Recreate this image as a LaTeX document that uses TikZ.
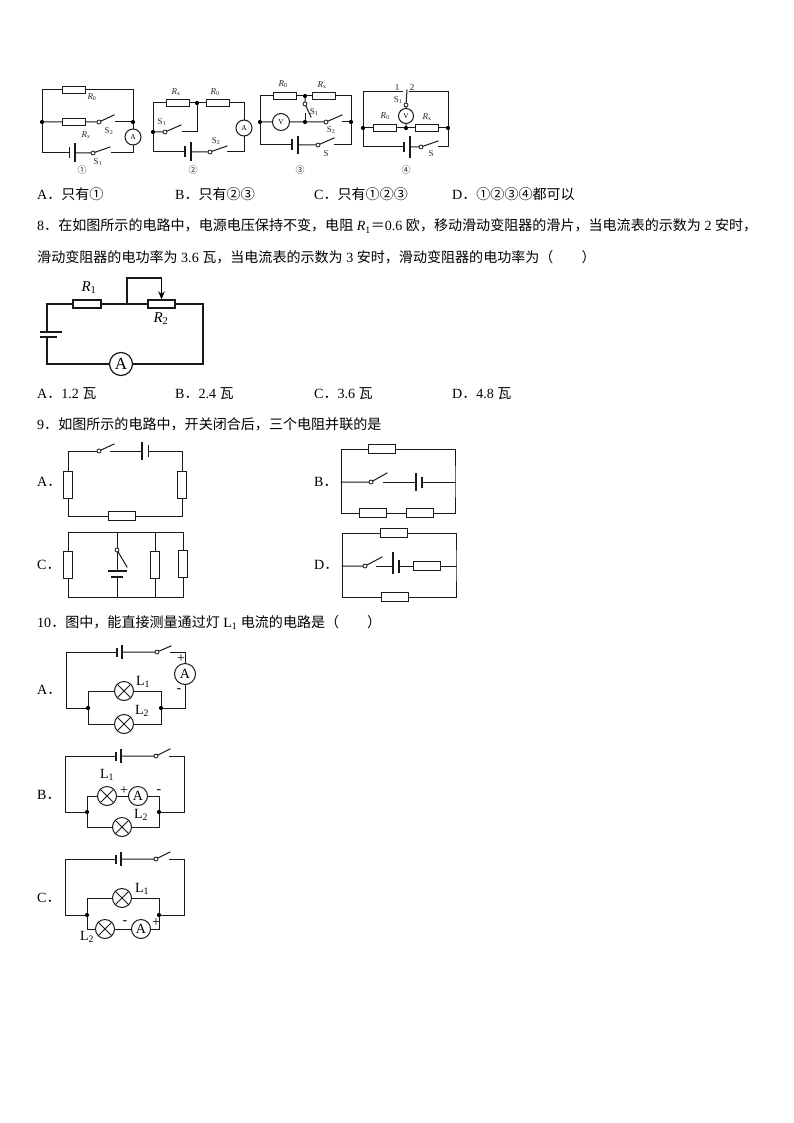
\documentclass[tikz,border=0pt]{standalone}
\usepackage{fontspec}
\usetikzlibrary{arrows.meta}
\setmainfont{Liberation Serif}
\newfontfamily\cjk{Noto Sans CJK SC}
\newcommand{\Rlab}[1]{\textit{R}\textsubscript{#1}}
\newcommand{\fs}[1]{\fontsize{#1}{#1}\selectfont}
\tikzset{
 wire/.style={line width=1pt,line join=miter,line cap=rect,draw=black!90},
 res/.style={draw=black!90,line width=1pt,fill=white,inner sep=0pt,minimum width=23pt,minimum height=7.5pt},
 resl/.style={res,minimum width=27.5pt,minimum height=9.5pt},
 resv/.style={res,minimum width=9.5pt,minimum height=27pt},
 meter/.style={draw=black!90,line width=1pt,circle,fill=white,inner sep=0pt,minimum size=16pt,font=\fs{7.5}},
 lamp/.style={draw=black!90,line width=1pt,circle,fill=white,inner sep=0pt,minimum size=19pt,
   path picture={\draw[line width=1pt] (path picture bounding box.north west)--(path picture bounding box.south east)
   (path picture bounding box.north east)--(path picture bounding box.south west);}},
 dotj/.style={circle,fill=black,inner sep=0pt,minimum size=4.2pt},
 swc/.style={draw=black!90,line width=0.8pt,circle,fill=white,inner sep=0pt,minimum size=4pt},
 plate/.style={fill=black!90,inner sep=0pt,minimum width=1.2pt},
 plateh/.style={fill=black!90,inner sep=0pt,minimum height=1.4pt},
 txt/.style={anchor=base west,inner sep=0pt,font=\fs{14.05}},
 lab/.style={inner sep=0pt,font=\fs{9},text=black!85},
 labb/.style={inner sep=0pt,font=\fs{14}},
}
\begin{document}
\begin{tikzpicture}[x=1pt,y=-1pt]
\useasboundingbox[fill=white] (0,0) rectangle (794,1123);
% ---------- circuit 1
\coordinate (atl) at (42,90); \coordinate (atr) at (133,90);
\coordinate (abl) at (42,153); \coordinate (abr) at (133,153);
\node[dotj] (aml) at (42,122) {}; \node[dotj] (amr) at (133,122) {};
\node[res] (ar0) at (73.5,90) {}; \node[res] (arx) at (73.5,122) {};
\node[swc] (as2) at (99,122) {}; \coordinate (as2t) at (114,115); \coordinate (as2c) at (115,122);
\node[meter] (aA) at (133,137) {A};
\node[plate,minimum height=11pt] (ap1) at (69.5,153) {}; \node[plate,minimum height=19pt] (ap2) at (75,153) {};
\node[swc] (as1) at (93,153) {}; \coordinate (as1t) at (110,147); \coordinate (as1c) at (111,153);
\draw[wire] (aml)--(atl)--(ar0)--(atr)--(amr);
\draw[wire] (aml)--(arx)--(as2)--(as2t); \draw[wire] (as2c)--(amr)--(aA)--(abr)--(as1c);
\draw[wire] (aml)--(abl)--(ap1); \draw[wire] (ap2)--(as1)--(as1t);
\node[lab] (l1a) at (92,97) {\Rlab{0}}; \node[lab] (l1b) at (109,131) {S\textsubscript{2}};
\node[lab] (l1c) at (86,135) {\Rlab{x}}; \node[lab] (l1d) at (98,162) {S\textsubscript{1}};
\node[lab,font=\fs{9}\cjk] (l1e) at (82,170) {①};
% ---------- circuit 2
\coordinate (btl) at (153,103); \coordinate (btr) at (244,103);
\coordinate (bbl) at (153,152); \coordinate (bbr) at (244,152);
\node[dotj] (bj) at (197,103) {}; \node[dotj] (bl) at (153,132) {};
\coordinate (bd) at (197,132); \coordinate (bc) at (182,132);
\node[res] (brx) at (178,103) {}; \node[res] (br0) at (217.5,103) {};
\node[swc] (bs1) at (165,132) {}; \coordinate (bs1t) at (181,125);
\node[meter] (bA) at (244,128) {A};
\node[plate,minimum height=11pt] (bp1) at (185,152) {}; \node[plate,minimum height=19pt] (bp2) at (191,152) {};
\node[swc] (bs2) at (210,152) {}; \coordinate (bs2t) at (227,146); \coordinate (bs2c) at (227,152);
\draw[wire] (bbl)--(bl)--(btl)--(brx)--(bj)--(br0)--(btr)--(bA)--(bbr)--(bs2c);
\draw[wire] (bj)--(bd)--(bc); \draw[wire] (bl)--(bs1)--(bs1t);
\draw[wire] (bbl)--(bp1); \draw[wire] (bp2)--(bs2)--(bs2t);
\node[lab] (l2a) at (176,92) {\Rlab{x}}; \node[lab] (l2b) at (215,92) {\Rlab{0}};
\node[lab] (l2c) at (162,122) {S\textsubscript{1}}; \node[lab] (l2d) at (216,141) {S\textsubscript{2}};
\node[lab,font=\fs{9}\cjk] (l2e) at (193,170) {②};
% ---------- circuit 3
\coordinate (ctl) at (260,96); \coordinate (ctr) at (351,96);
\coordinate (cbl) at (260,145); \coordinate (cbr) at (351,145);
\node[dotj] (cml) at (260,122) {}; \node[dotj] (cmr) at (351,122) {};
\node[dotj] (cjt) at (305,96) {}; \node[dotj] (cjm) at (305,122) {};
\node[res] (cr0) at (285,96) {}; \node[res] (crx) at (324,96) {};
\node[swc] (cs1) at (305,104) {}; \coordinate (cs1t) at (311,117); \coordinate (cs1c) at (305,114);
\node[meter,minimum size=17pt] (cV) at (281,122) {V};
\node[swc] (cs2) at (326,122) {}; \coordinate (cs2t) at (342,115); \coordinate (cs2c) at (342,122);
\node[plate,minimum height=11pt,minimum width=1.8pt] (cp1) at (292,145) {}; \node[plate,minimum height=18pt] (cp2) at (298,145) {};
\node[swc] (cs) at (318,145) {}; \coordinate (cst) at (334,138); \coordinate (csc) at (334,145);
\draw[wire] (cbl)--(cml)--(ctl)--(cr0)--(cjt)--(crx)--(ctr)--(cmr)--(cbr)--(csc);
\draw[wire] (cml)--(cV)--(cjm)--(cs2)--(cs2t); \draw[wire] (cs2c)--(cmr);
\draw[wire] (cjt)--(cs1)--(cs1t); \draw[wire] (cjm)--(cs1c);
\draw[wire] (cbl)--(cp1); \draw[wire] (cp2)--(cs)--(cst);
\node[lab] (l3a) at (283,84) {\Rlab{0}}; \node[lab] (l3b) at (322,85) {\Rlab{x}};
\node[lab] (l3c) at (314,112) {S\textsubscript{1}}; \node[lab] (l3d) at (331,130) {S\textsubscript{2}};
\node[lab] (l3e) at (326,154) {S};
\node[lab,font=\fs{9}\cjk] (l3f) at (300,170) {③};
% ---------- circuit 4
\coordinate (dtl) at (363,92); \coordinate (dtr) at (448,92);
\coordinate (dbl) at (363,147); \coordinate (dbr) at (448,147);
\coordinate (dc1) at (402,92); \coordinate (dc2) at (409,92);
\node[dotj] (dml) at (363,128) {}; \node[dotj] (dmr) at (448,128) {}; \node[dotj] (djm) at (406,128) {};
\node[res] (dr0) at (385,128) {}; \node[res] (drx) at (427,128) {};
\node[swc] (ds1) at (406,105) {}; \coordinate (ds1t) at (407,90);
\node[meter,minimum size=15pt] (dV) at (406,116) {V};
\node[plate,minimum height=10pt,minimum width=1.8pt] (dp1) at (404,147) {}; \node[plate,minimum height=22pt] (dp2) at (410,147) {};
\node[swc] (ds) at (421,147) {}; \coordinate (dst) at (438,141); \coordinate (dsc) at (438,147);
\draw[wire] (dbl)--(dml)--(dtl)--(dc1); \draw[wire] (dc2)--(dtr)--(dmr)--(dbr)--(dsc);
\draw[wire] (dml)--(dr0)--(djm)--(drx)--(dmr);
\draw[wire] (ds1t)--(ds1)--(dV)--(djm);
\draw[wire] (dbl)--(dp1); \draw[wire] (dp2)--(ds)--(dst);
\node[lab] (l4a) at (397,87.5) {1}; \node[lab] (l4b) at (412,87.5) {2};
\node[lab] (l4c) at (398,100) {S\textsubscript{1}};
\node[lab] (l4d) at (385,116) {\Rlab{0}}; \node[lab] (l4e) at (427,117) {\Rlab{x}};
\node[lab] (l4f) at (431,154) {S};
\node[lab,font=\fs{9}\cjk] (l4g) at (406,170) {④};
% ---------- text
\node[txt] (t7a) at (37,200) {A{\cjk ．只有①}};
\node[txt] (t7b) at (175,200) {B{\cjk ．只有②③}};
\node[txt] (t7c) at (314,200) {C{\cjk ．只有①②③}};
\node[txt] (t7d) at (452,200) {D{\cjk ．①②③④都可以}};
\node[txt] (t8a) at (37,231) {8{\cjk ．在如图所示的电路中，电源电压保持不变，电阻} \textit{R}\textsubscript{1}{\cjk ＝}0.6 {\cjk 欧，移动滑动变阻器的滑片，当电流表的示数为} 2 {\cjk 安时，}};
\node[txt] (t8b) at (37,262) {{\cjk 滑动变阻器的电功率为} 3.6 {\cjk 瓦，当电流表的示数为} 3 {\cjk 安时，滑动变阻器的电功率为（\hspace{28pt}）}};
\node[txt] (t8A) at (37,398) {A{\cjk ．}1.2 {\cjk 瓦}};
\node[txt] (t8B) at (175,398) {B{\cjk ．}2.4 {\cjk 瓦}};
\node[txt] (t8C) at (314,398) {C{\cjk ．}3.6 {\cjk 瓦}};
\node[txt] (t8D) at (452,398) {D{\cjk ．}4.8 {\cjk 瓦}};
\node[txt] (t9) at (37,429) {9{\cjk ．如图所示的电路中，开关闭合后，三个电阻并联的是}};
\node[txt] (t9A) at (37,486) {A{\cjk ．}};
\node[txt] (t9B) at (314,486) {B{\cjk ．}};
\node[txt] (t9C) at (37,569) {C{\cjk ．}};
\node[txt] (t9D) at (314,569) {D{\cjk ．}};
\node[txt] (t10) at (37,627) {10{\cjk ．图中，能直接测量通过灯} L\textsubscript{1} {\cjk 电流的电路是（\hspace{28pt}）}};
\node[txt] (t10A) at (37,694) {A{\cjk ．}};
\node[txt] (t10B) at (37,799) {B{\cjk ．}};
\node[txt] (t10C) at (37,902) {C{\cjk ．}};
% ---------- question 8 circuit
\coordinate (etl) at (47,304); \coordinate (etr) at (203,304);
\coordinate (ebl) at (47,364); \coordinate (ebr) at (203,364);
\coordinate (ej) at (127,304); \coordinate (ec1) at (127,278); \coordinate (ec2) at (161.5,278);
\node[res,line width=1.3pt,minimum width=28pt,minimum height=8pt] (er1) at (87,304) {};
\node[res,line width=1.3pt,minimum width=27pt,minimum height=8pt] (er2) at (161.5,304) {};
\node[plateh,minimum width=22pt] (ep1) at (51,332) {}; \node[plateh,minimum width=17pt,minimum height=2.6pt] (ep2) at (48.5,337) {};
\coordinate (ep1w) at (47,332); \coordinate (ep2w) at (47,337);
\node[meter,line width=1.2pt,minimum size=23pt,font=\fs{17}] (eA) at (121,364) {A};
\draw[wire,line width=1.2pt] (ep1w)--(etl)--(er1)--(ej)--(er2)--(etr)--(ebr)--(eA)--(ebl)--(ep2w);
\draw[wire,line width=1.2pt] (ej)--(ec1)--(ec2); \draw[line width=1.4pt,-{Stealth[length=8pt,width=6.5pt]}] (ec2)--(er2);
\node[labb,font=\fs{15}] (el1) at (89,288) {\Rlab{1}}; \node[labb,font=\fs{15}] (el2) at (161,319) {\Rlab{2}};
% ---------- 9A
\coordinate (ftl) at (68,451); \coordinate (ftr) at (182,451);
\coordinate (fbl) at (68,516); \coordinate (fbr) at (182,516);
\node[swc] (fs) at (99,451) {}; \coordinate (fst) at (114,444); \coordinate (fsc) at (110,451);
\node[plate,minimum height=18pt] (fp1) at (142,451) {}; \node[plate,minimum height=12pt] (fp2) at (148.5,451) {};
\node[resv] (fr1) at (68,485) {}; \node[resv] (fr2) at (182,485) {}; \node[resl] (fr3) at (122,516) {};
\draw[wire] (fs)--(ftl)--(fr1)--(fbl)--(fr3)--(fbr)--(fr2)--(ftr)--(fp2);
\draw[wire] (fs)--(fst); \draw[wire] (fsc)--(fp1);
% ---------- 9B
\coordinate (gtl) at (341,449); \coordinate (gtr) at (455,449);
\coordinate (gbl) at (341,513); \coordinate (gbr) at (455,513);
\coordinate (gml) at (341,482); \coordinate (gmr) at (455,482);
\node[resl] (gr1) at (382,449) {}; \node[resl] (gr2) at (373,513) {}; \node[resl] (gr3) at (420,513) {};
\node[swc] (gs) at (371,482) {}; \coordinate (gst) at (387,473); \coordinate (gsc) at (383,482);
\node[plate,minimum height=18pt] (gp1) at (416,482) {}; \node[plate,minimum height=11pt] (gp2) at (422,482) {};
\draw[wire] (gml)--(gtl)--(gr1)--(gtr)--(gmr)--(gbr)--(gr3)--(gr2)--(gbl)--(gml);
\draw[wire] (gml)--(gs)--(gst); \draw[wire] (gsc)--(gp1); \draw[wire] (gp2)--(gmr);
% ---------- 9C
\coordinate (htl) at (68,532); \coordinate (htr) at (183,532);
\coordinate (hbl) at (68,597); \coordinate (hbr) at (183,597);
\coordinate (htm) at (117,532); \coordinate (hbm) at (117,597);
\coordinate (htn) at (155,532); \coordinate (hbn) at (155,597);
\node[resv] (hr1) at (68,565) {}; \node[resv] (hr2) at (155,565) {}; \node[resv] (hr3) at (183,564) {};
\node[swc] (hs) at (117,550) {}; \coordinate (hst) at (127,567);
\node[plateh,minimum width=19pt] (hp1) at (117,571) {}; \node[plateh,minimum width=12pt] (hp2) at (117,577) {};
\draw[wire] (hbl)--(hr1)--(htl)--(htr)--(hr3)--(hbr)--(hbl);
\draw[wire] (htn)--(hr2)--(hbn);
\draw[wire] (htm)--(hs)--(hp1); \draw[wire] (hs)--(hst); \draw[wire] (hp2)--(hbm);
% ---------- 9D
\coordinate (jtl) at (342,533); \coordinate (jtr) at (456,533);
\coordinate (jbl) at (342,597); \coordinate (jbr) at (456,597);
\coordinate (jml) at (342,566); \coordinate (jmr) at (456,566);
\node[resl] (jr1) at (394,533) {}; \node[resl] (jr2) at (427,566) {}; \node[resl] (jr3) at (395,597) {};
\node[swc] (js) at (365,566) {}; \coordinate (jst) at (382,557); \coordinate (jsc) at (376,566);
\node[plate,minimum height=22pt] (jp1) at (393,563) {}; \node[plate,minimum height=13pt] (jp2) at (399,566) {};
\coordinate (jp1w) at (393,566);
\draw[wire] (jml)--(jtl)--(jr1)--(jtr)--(jmr)--(jbr)--(jr3)--(jbl)--(jml);
\draw[wire] (jml)--(js)--(jst); \draw[wire] (jsc)--(jp1w); \draw[wire] (jp2)--(jr2)--(jmr);
% ---------- 10A
\coordinate (ktl) at (66,652); \coordinate (ktr) at (185,652);
\coordinate (kbl) at (66,708); \coordinate (kbr) at (185,708);
\coordinate (kitl) at (88,691); \coordinate (kitr) at (161,691);
\coordinate (kibl) at (88,724); \coordinate (kibr) at (161,724);
\node[dotj] (kjl) at (88,708) {}; \node[dotj] (kjr) at (161,708) {};
\node[plate,minimum height=9pt] (kp1) at (117,652) {}; \node[plate,minimum height=14pt] (kp2) at (122,652) {};
\node[swc] (ks) at (157,652) {}; \coordinate (kst) at (171,646); \coordinate (ksc) at (170,652);
\node[meter,minimum size=21pt,font=\fs{14}] (kA) at (185,674) {A};
\node[lamp] (kl1) at (124,691) {}; \node[lamp] (kl2) at (124,724) {};
\draw[wire] (kp1)--(ktl)--(kbl)--(kjl)--(kitl)--(kl1)--(kitr)--(kjr)--(kibr)--(kl2)--(kibl)--(kjl);
\draw[wire] (kp2)--(ks)--(kst); \draw[wire] (ksc)--(ktr)--(kA)--(kbr)--(kjr);
\node[labb] (kL1) at (143,682) {L\textsubscript{1}}; \node[labb] (kL2) at (142,711) {L\textsubscript{2}};
\node[labb] (kplus) at (181,659) {+}; \node[labb] (kminus) at (179,691) {-};
% ---------- 10B
\coordinate (mtl) at (65,756); \coordinate (mtr) at (184,756);
\coordinate (mbl) at (65,812); \coordinate (mbr) at (184,812);
\coordinate (mitl) at (87,796); \coordinate (mitr) at (159,796);
\coordinate (mibl) at (87,827); \coordinate (mibr) at (159,827);
\node[dotj] (mjl) at (87,812) {}; \node[dotj] (mjr) at (159,812) {};
\node[plate,minimum height=9pt] (mp1) at (116,756) {}; \node[plate,minimum height=14pt] (mp2) at (121,756) {};
\node[swc] (ms) at (156,756) {}; \coordinate (mst) at (170,749); \coordinate (msc) at (169,756);
\node[lamp] (ml1) at (107,796) {}; \node[lamp] (ml2) at (122,827) {};
\node[meter,minimum size=19pt,font=\fs{14}] (mA) at (138,796) {A};
\draw[wire] (mp1)--(mtl)--(mbl)--(mjl)--(mitl)--(ml1)--(mA)--(mitr)--(mjr)--(mibr)--(ml2)--(mibl)--(mjl);
\draw[wire] (mp2)--(ms)--(mst); \draw[wire] (msc)--(mtr)--(mbr)--(mjr);
\node[labb] (mL1) at (107,775) {L\textsubscript{1}}; \node[labb] (mL2) at (141,815) {L\textsubscript{2}};
\node[labb] (mplus) at (124,791) {+}; \node[labb] (mminus) at (159,792) {-};
% ---------- 10C
\coordinate (ntl) at (65,859); \coordinate (ntr) at (184,859);
\coordinate (nbl) at (65,915); \coordinate (nbr) at (184,915);
\coordinate (nitl) at (87,898); \coordinate (nitr) at (159,898);
\coordinate (nibl) at (87,929); \coordinate (nibr) at (159,929);
\node[dotj] (njl) at (87,915) {}; \node[dotj] (njr) at (159,915) {};
\node[plate,minimum height=9pt] (np1) at (116,859) {}; \node[plate,minimum height=14pt] (np2) at (121,859) {};
\node[swc] (ns) at (156,859) {}; \coordinate (nst) at (170,852); \coordinate (nsc) at (169,859);
\node[lamp] (nl1) at (122,898) {}; \node[lamp] (nl2) at (105,929) {};
\node[meter,minimum size=19pt,font=\fs{14}] (nA) at (141,929) {A};
\draw[wire] (np1)--(ntl)--(nbl)--(njl)--(nitl)--(nl1)--(nitr)--(njr)--(nibr)--(nA)--(nl2)--(nibl)--(njl);
\draw[wire] (np2)--(ns)--(nst); \draw[wire] (nsc)--(ntr)--(nbr)--(njr);
\node[labb] (nL1) at (142,889) {L\textsubscript{1}}; \node[labb] (nL2) at (87,937) {L\textsubscript{2}};
\node[labb] (nminus) at (125,923) {-}; \node[labb] (nplus) at (156,923) {+};
\end{tikzpicture}
\end{document}
